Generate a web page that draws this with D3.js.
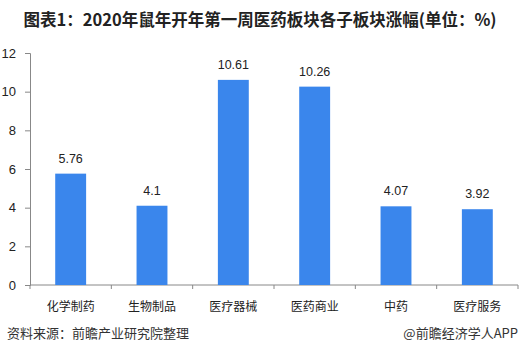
<!DOCTYPE html>
<html>
<head>
<meta charset="utf-8">
<script src="https://cdn.jsdelivr.net/npm/d3@7"></script>
<style>
  body { margin: 0; background: #fff; }
  svg { display: block; font-family: "Liberation Sans", Arial, "Noto Sans CJK SC", sans-serif; }
</style>
</head>
<body>
<svg id="chart" width="522" height="362"></svg>
<script>
const categories = ["化学制药", "生物制品", "医疗器械", "医药商业", "中药", "医疗服务"];
const values = [5.76, 4.1, 10.61, 10.26, 4.07, 3.92];
const valueLabels = ["5.76", "4.1", "10.61", "10.26", "4.07", "3.92"];
const yTicks = [0, 2, 4, 6, 8, 10, 12];

const titleText = "图表1：2020年鼠年开年第一周医药板块各子板块涨幅(单位：%)";
const sourceText = "资料来源：前瞻产业研究院整理";
const brandText = "@前瞻经济学人APP";

const svg = d3.select("#chart");
const cjk = '"Noto Sans CJK SC", sans-serif';

const x = d3.scaleBand().domain(categories).range([30, 518]).paddingInner(0.62).paddingOuter(0.31);
const y = d3.scaleLinear().domain([0, 12]).range([285, 53]);

// title
svg.append("text")
  .attr("x", 260).attr("y", 26)
  .attr("text-anchor", "middle")
  .style("font-family", cjk)
  .style("font-weight", "bold")
  .style("font-size", "16.5px")
  .style("fill", "#222")
  .text(titleText);

// y axis
const yAxis = svg.append("g")
  .attr("transform", "translate(30,0)")
  .call(d3.axisLeft(y).tickValues(yTicks).tickSize(5).tickPadding(9));
yAxis.select(".domain").attr("stroke", "#888");
yAxis.selectAll(".tick line").attr("stroke", "#888");
yAxis.selectAll(".tick text").style("font-size", "13px").style("fill", "#222");

// x axis: ticks on band boundaries
const bounds = [30].concat(categories.map(c => x(c) + x.bandwidth() / 2 + x.step() / 2));
const xg = svg.append("g");
xg.append("line")
  .attr("x1", 30).attr("x2", 518).attr("y1", y(0)).attr("y2", y(0))
  .attr("stroke", "#888");
xg.selectAll("line.tk").data(bounds).join("line")
  .attr("class", "tk")
  .attr("x1", d => d).attr("x2", d => d)
  .attr("y1", y(0)).attr("y2", y(0) + 4)
  .attr("stroke", "#888");
xg.selectAll("text").data(categories).join("text")
  .attr("x", d => x(d) + x.bandwidth() / 2)
  .attr("y", 311)
  .attr("text-anchor", "middle")
  .style("font-family", cjk)
  .style("font-size", "12px")
  .style("fill", "#222")
  .text(d => d);

// bars
svg.append("g").selectAll("rect").data(values).join("rect")
  .attr("x", (d, i) => x(categories[i]))
  .attr("width", x.bandwidth())
  .attr("y", d => y(d))
  .attr("height", d => y(0) - y(d))
  .attr("fill", "#3a86ec");

// value labels
svg.append("g").selectAll("text").data(values).join("text")
  .attr("x", (d, i) => x(categories[i]) + x.bandwidth() / 2)
  .attr("y", d => y(d) - 11)
  .attr("text-anchor", "middle")
  .style("font-size", "12.5px")
  .style("fill", "#222")
  .text((d, i) => valueLabels[i]);

// footer
svg.append("text")
  .attr("x", 7).attr("y", 338)
  .style("font-family", cjk)
  .style("font-size", "13px")
  .style("fill", "#333")
  .text(sourceText);
svg.append("text")
  .attr("x", 518).attr("y", 338)
  .attr("text-anchor", "end")
  .style("font-family", cjk)
  .style("font-size", "13px")
  .style("fill", "#333")
  .text(brandText);
</script>
</body>
</html>
